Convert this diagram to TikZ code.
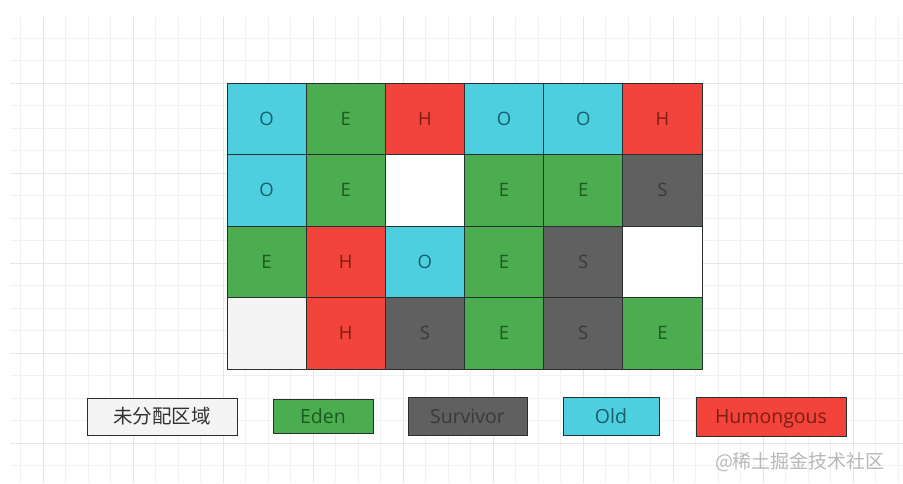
\documentclass[tikz,border=0pt]{standalone}
\usepackage{fontspec}
\setmainfont{Open Sans}
\newfontfamily\cjk{Noto Sans CJK SC}
\definecolor{gridminor}{HTML}{F1F1F1}
\definecolor{gridmajor}{HTML}{E6E6E6}
\definecolor{oldfill}{HTML}{4ECFE0}
\definecolor{oldtext}{HTML}{155F6B}
\definecolor{edenfill}{HTML}{4CAD50}
\definecolor{edentext}{HTML}{1C5A1F}
\definecolor{humfill}{HTML}{F2443A}
\definecolor{humtext}{HTML}{7E1C16}
\definecolor{survfill}{HTML}{606060}
\definecolor{survtext}{HTML}{3A3A3A}
\definecolor{freefill}{HTML}{F4F4F4}
\definecolor{cellborder}{HTML}{25302F}
\begin{document}
\begin{tikzpicture}[x=1pt,y=-1pt,
  cell/.style={draw=cellborder, line width=0.9pt, minimum width=79.17pt, minimum height=71.5pt, inner sep=0pt, font=\fontsize{18.5}{22}\selectfont},
  oldc/.style={cell, fill=oldfill, text=oldtext},
  edenc/.style={cell, fill=edenfill, text=edentext},
  humc/.style={cell, fill=humfill, text=humtext},
  survc/.style={cell, fill=survfill, text=survtext},
  emptyc/.style={cell, fill=white},
  freec/.style={cell, fill=freefill},
  leg/.style={draw=cellborder, line width=1pt, inner sep=0pt, text height=15pt, text depth=1pt, font=\fontsize{19.5}{23}\selectfont}
]
\useasboundingbox (0,0) rectangle (903,483);
\fill[white] (0,0) rectangle (903,483);
% background grid
\foreach \k in {0,...,39} \draw[gridminor, line width=0.8pt] ({20.5+22.5*\k},17) -- ({20.5+22.5*\k},483);
\foreach \k in {0,...,19} \draw[gridminor, line width=0.8pt] (10,{38+22.5*\k}) -- (903,{38+22.5*\k});
\foreach \k in {0,...,9} \draw[gridmajor, line width=0.9pt] ({43+90*\k},17) -- ({43+90*\k},483);
\foreach \k in {0,...,4} \draw[gridmajor, line width=0.9pt] (10,{83+90*\k}) -- (903,{83+90*\k});
% region cells
\def\ca{266.6}\def\cb{345.75}\def\cc{424.9}\def\cd{504.1}\def\ce{583.25}\def\cf{662.4}
\def\ra{118.75}\def\rb{190.25}\def\rc{261.75}\def\rd{333.25}
\node[oldc]  (r1c1) at (\ca,\ra) {O};
\node[edenc] (r1c2) at (\cb,\ra) {E};
\node[humc]  (r1c3) at (\cc,\ra) {H};
\node[oldc]  (r1c4) at (\cd,\ra) {O};
\node[oldc]  (r1c5) at (\ce,\ra) {O};
\node[humc]  (r1c6) at (\cf,\ra) {H};
\node[oldc]  (r2c1) at (\ca,\rb) {O};
\node[edenc] (r2c2) at (\cb,\rb) {E};
\node[emptyc](r2c3) at (\cc,\rb) {};
\node[edenc] (r2c4) at (\cd,\rb) {E};
\node[edenc] (r2c5) at (\ce,\rb) {E};
\node[survc] (r2c6) at (\cf,\rb) {S};
\node[edenc] (r3c1) at (\ca,\rc) {E};
\node[humc]  (r3c2) at (\cb,\rc) {H};
\node[oldc]  (r3c3) at (\cc,\rc) {O};
\node[edenc] (r3c4) at (\cd,\rc) {E};
\node[survc] (r3c5) at (\ce,\rc) {S};
\node[emptyc](r3c6) at (\cf,\rc) {};
\node[freec] (r4c1) at (\ca,\rd) {};
\node[humc]  (r4c2) at (\cb,\rd) {H};
\node[survc] (r4c3) at (\cc,\rd) {S};
\node[edenc] (r4c4) at (\cd,\rd) {E};
\node[survc] (r4c5) at (\ce,\rd) {S};
\node[edenc] (r4c6) at (\cf,\rd) {E};
% legend
\node[leg, fill=freefill, text=black!80, minimum width=150pt, minimum height=37pt] (lfree) at (162,416.5) {\cjk 未分配区域};
\node[leg, fill=edenfill, text=edentext, minimum width=100pt, minimum height=34pt] (leden) at (323,416) {Eden};
\node[leg, fill=survfill, text=survtext, minimum width=119pt, minimum height=38pt] (lsurv) at (467.5,416) {Survivor};
\node[leg, fill=oldfill, text=oldtext, minimum width=96pt, minimum height=38pt] (lold) at (611,416) {Old};
\node[leg, fill=humfill, text=humtext, minimum width=150pt, minimum height=39pt] (lhum) at (771,416.5) {Humongous};
% watermark
\node[text=black!28, font=\cjk\fontsize{19}{22}\selectfont, inner sep=0pt] (wm) at (800,462) {@稀土掘金技术社区};
\end{tikzpicture}
\end{document}
